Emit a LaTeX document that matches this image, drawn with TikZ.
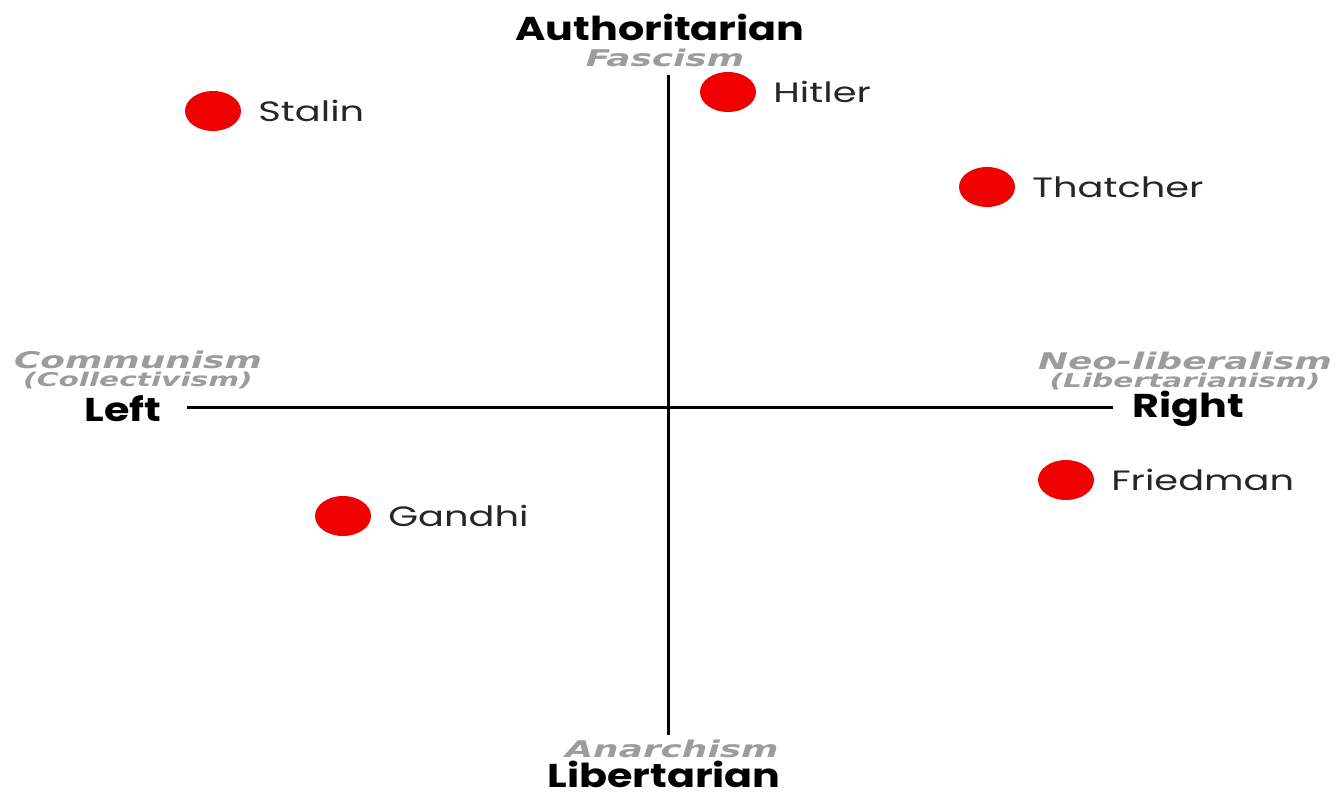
\documentclass[tikz,border=0pt]{standalone}
\usepackage{fontspec}
\usepackage{tikz}
\usetikzlibrary{positioning, shapes.geometric}

\newfontfamily\gothic[FakeStretch=1.25]{Poppins}
\newfontfamily\namefont[FakeStretch=1.37]{Poppins}
\newfontfamily\ismfont[FakeStretch=1.56]{DejaVu Sans}
\definecolor{dotred}{HTML}{F00000}
\definecolor{ismgray}{HTML}{9C9C9C}

\begin{document}
\begin{tikzpicture}[
    x=1pt, y=-1pt,
    node distance=17pt,
    axis/.style={line width=3pt, draw=black},
    dot/.style={ellipse, fill=dotred, draw=none, minimum width=56pt, minimum height=40pt, inner sep=0pt},
    person/.style={inner sep=0pt, font=\namefont\fontsize{28}{28}\selectfont, text=black!85},
    pole/.style={inner sep=0pt, font=\gothic\bfseries\fontsize{33}{33}\selectfont},
    ism/.style={inner sep=0pt, font=\ismfont\bfseries\itshape\fontsize{23}{23}\selectfont, text=ismgray, align=center}
]
\useasboundingbox (0,0) rectangle (1335,798);

% axes
\coordinate (north) at (668,75);
\coordinate (south) at (668,735);
\coordinate (west) at (187,407);
\coordinate (east) at (1113,407);
\draw[axis] (north) -- (south);
\draw[axis] (west) -- (east);

% poles
\node[pole] (auth) at (660,27) {Authoritarian};
\node[ism] (fascism) at (665,58) {Fascism};
\node[pole] (lib) at (664,774) {Libertarian};
\node[ism] (anarchism) at (672,749) {Anarchism};
\node[pole] (left) at (123,409) {Left};
\node[ism] (communism) at (138,370) {Communism\\[-5pt]\fontsize{19}{19}\selectfont(Collectivism)};
\node[pole] (right) at (1188,409) {Right};
\node[ism] (neolib) at (1185,371) {Neo-liberalism\\[-5pt]\fontsize{19}{19}\selectfont(Libertarianism)};

% people
\node[dot] (stalin) at (213,111) {};
\node[person, right=of stalin] (stalinlbl) {Stalin};
\node[dot] (hitler) at (728,92) {};
\node[person, right=of hitler] (hitlerlbl) {Hitler};
\node[dot] (thatcher) at (987,187) {};
\node[person, right=of thatcher] (thatcherlbl) {Thatcher};
\node[dot] (friedman) at (1066,480) {};
\node[person, right=of friedman] (friedmanlbl) {Friedman};
\node[dot] (gandhi) at (343,516) {};
\node[person, right=of gandhi] (gandhilbl) {Gandhi};
\end{tikzpicture}
\end{document}
